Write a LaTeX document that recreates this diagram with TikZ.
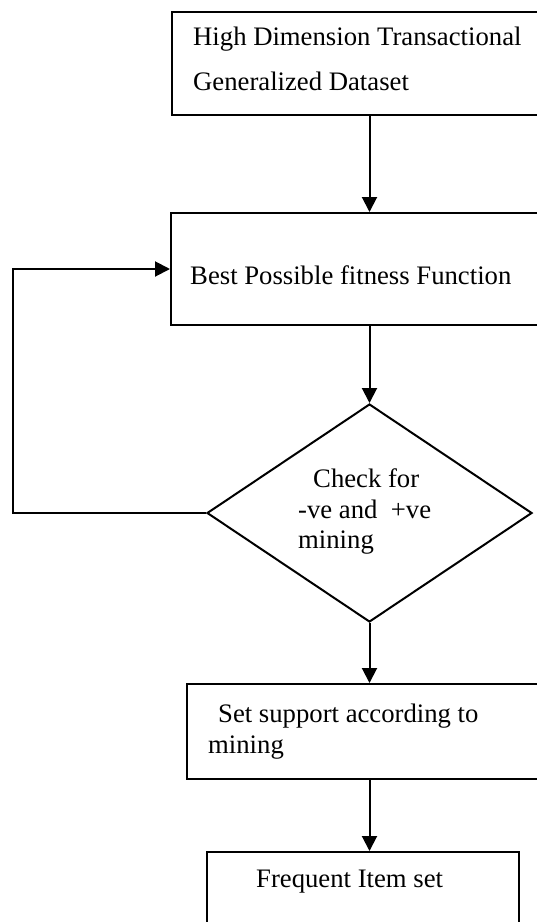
\documentclass[tikz,border=0pt]{standalone}
\usepackage{fontspec}
\setmainfont{Liberation Serif}
\usetikzlibrary{shapes.geometric,arrows.meta}
\tikzset{
  boxnode/.style={draw, line width=2pt, rectangle, inner sep=0pt},
  decision/.style={draw, line width=2pt, diamond, inner sep=0pt, minimum width=325pt, minimum height=218pt},
  txt/.style={anchor=base west, inner sep=0pt, font=\fontsize{26.7}{31}\selectfont},
  arr/.style={line width=2pt, -{Triangle[length=15pt,width=15pt]}}
}
\begin{document}
\begin{tikzpicture}[x=1pt,y=-1pt]
\useasboundingbox (0,0) rectangle (537,922);
\clip (0,0) rectangle (537,922);
% boxes
\node[boxnode, minimum width=428pt, minimum height=103pt] (b1) at (386,63.5) {};
\node[boxnode, minimum width=429pt, minimum height=112pt] (b2) at (385.5,269) {};
\node[decision] (dia) at (369.5,513) {};
\node[boxnode, minimum width=413pt, minimum height=95pt] (b3) at (393.5,731.5) {};
\node[boxnode, minimum width=312pt, minimum height=108pt] (b4) at (363,906) {};
% texts
\node[txt] (t1a) at (193,45) {High Dimension Transactional};
\node[txt] (t1b) at (193,90) {Generalized Dataset};
\node[txt] (t2) at (190,284) {Best Possible fitness Function};
\node[txt] (t3a) at (313,487) {Check for};
\node[txt] (t3b) at (298,518) {-ve and\ \ +ve};
\node[txt] (t3c) at (298,548) {mining};
\node[txt] (t4a) at (218,722) {Set support according to};
\node[txt] (t4b) at (208,753) {mining};
\node[txt] (t5) at (256,887) {Frequent Item set};
% connectors
\coordinate (fbx) at (13,0);
\draw[arr] (b1.south -| dia.north) -- (b2.north -| dia.north);
\draw[arr] (b2.south -| dia.north) -- (dia.north);
\draw[arr] (dia.south) -- (b3.north -| dia.south);
\draw[arr] (b3.south -| dia.south) -- (b4.north -| dia.south);
\draw[arr] (dia.west) -- (dia.west -| fbx) |- (b2.west);
\end{tikzpicture}
\end{document}
